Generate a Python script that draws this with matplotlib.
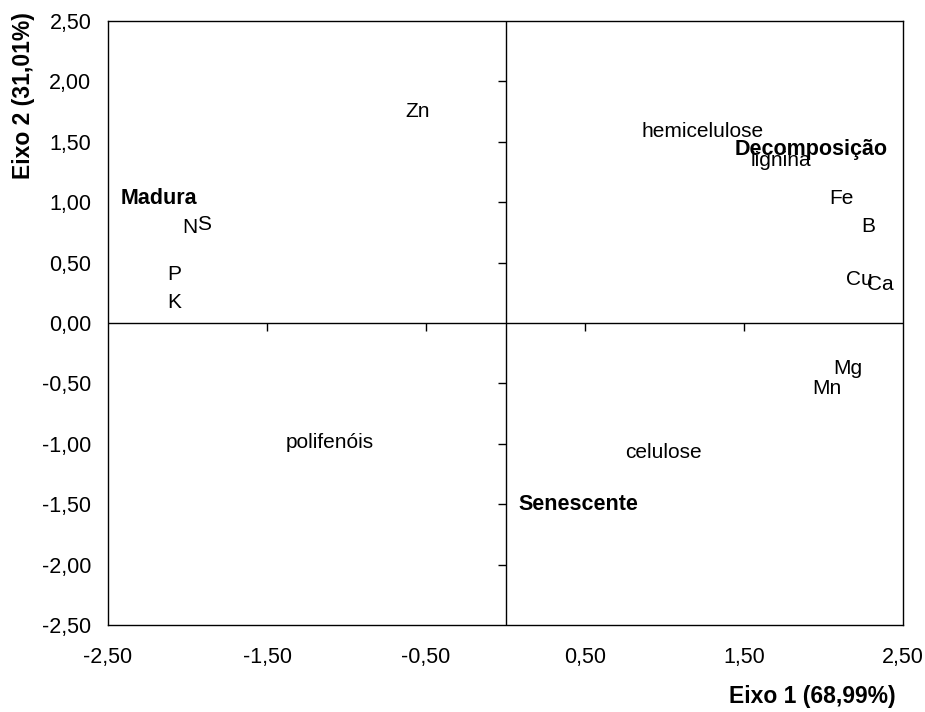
"""
Biplot of litter quality variables on the first two axes.
"""

import matplotlib

matplotlib.use("Agg")
import matplotlib.pyplot as plt
import numpy as np
from matplotlib.lines import TICKDOWN, TICKLEFT

plt.rcParams["font.family"] = ["Liberation Sans", "DejaVu Sans"]

# variable labels and their scores on axis 1 / axis 2
labels = ["Zn", "N", "S", "P", "K", "polifenóis", "hemicelulose", "lignina",
          "Fe", "B", "Cu", "Ca", "Mg", "Mn", "celulose"]
eixo1 = [-0.555, -1.987, -1.899, -2.085, -2.085, -1.104, 1.237, 1.732,
         2.114, 2.281, 2.224, 2.356, 2.151, 2.019, 0.994]
eixo2 = [1.705, 0.744, 0.774, 0.355, 0.121, -1.033, 1.537, 1.298,
         0.983, 0.755, 0.314, 0.273, -0.424, -0.589, -1.118]

# litter stages (bold labels)
stages = ["Madura", "Decomposição", "Senescente"]
stage_x = [-2.18, 1.924, 0.457]
stage_y = [0.983, 1.388, -1.545]

xticks = np.arange(-2.5, 2.51, 1.0)
yticks = np.arange(-2.5, 2.51, 0.5)


def fmt(v):
    return f"{v:.2f}".replace(".", ",")


fig = plt.figure(figsize=(9.25, 7.12), dpi=100)
ax = fig.add_axes([108 / 925, 1 - 625 / 712, 795 / 925, 604 / 712])

ax.set_xlim(-2.5, 2.5)
ax.set_ylim(-2.5, 2.5)
for sp in ax.spines.values():
    sp.set_linewidth(1.0)
    sp.set_color("black")

ax.set_xticks(xticks)
ax.set_xticklabels([fmt(v) for v in xticks])
ax.set_yticks(yticks)
ax.set_yticklabels([fmt(v) for v in yticks])
ax.tick_params(axis="x", length=0, pad=16, labelsize=15.5)
ax.tick_params(axis="y", length=0, pad=12, labelsize=15.5)

# axes crossing at the origin with their own tick marks
ax.axhline(0, color="black", lw=1.0)
ax.axvline(0, color="black", lw=1.0)
inner_x = xticks[(xticks > -2.5) & (xticks < 2.5)]
inner_y = yticks[(yticks > -2.5) & (yticks < 2.5) & (yticks != 0)]
ax.plot(inner_x, np.zeros_like(inner_x), ls="none", marker=TICKDOWN,
        ms=6, mew=1.0, color="black")
ax.plot(np.zeros_like(inner_y), inner_y, ls="none", marker=TICKLEFT,
        ms=6, mew=1.0, color="black")

for lab, x, y in zip(labels, eixo1, eixo2):
    ax.text(x, y, lab, ha="center", va="baseline", fontsize=15)

for lab, x, y in zip(stages, stage_x, stage_y):
    ax.text(x, y, lab, ha="center", va="baseline", fontsize=15.5,
            fontweight="bold")

fig.text(812 / 925, 1 - 697 / 712, "Eixo 1 (68,99%)", ha="center",
         va="center", fontsize=16.5, fontweight="bold")
fig.text(24 / 925, 1 - 96 / 712, "Eixo 2 (31,01%)", ha="center",
         va="center", rotation=90, fontsize=16.5, fontweight="bold")

fig.savefig("out.png", dpi=100)
